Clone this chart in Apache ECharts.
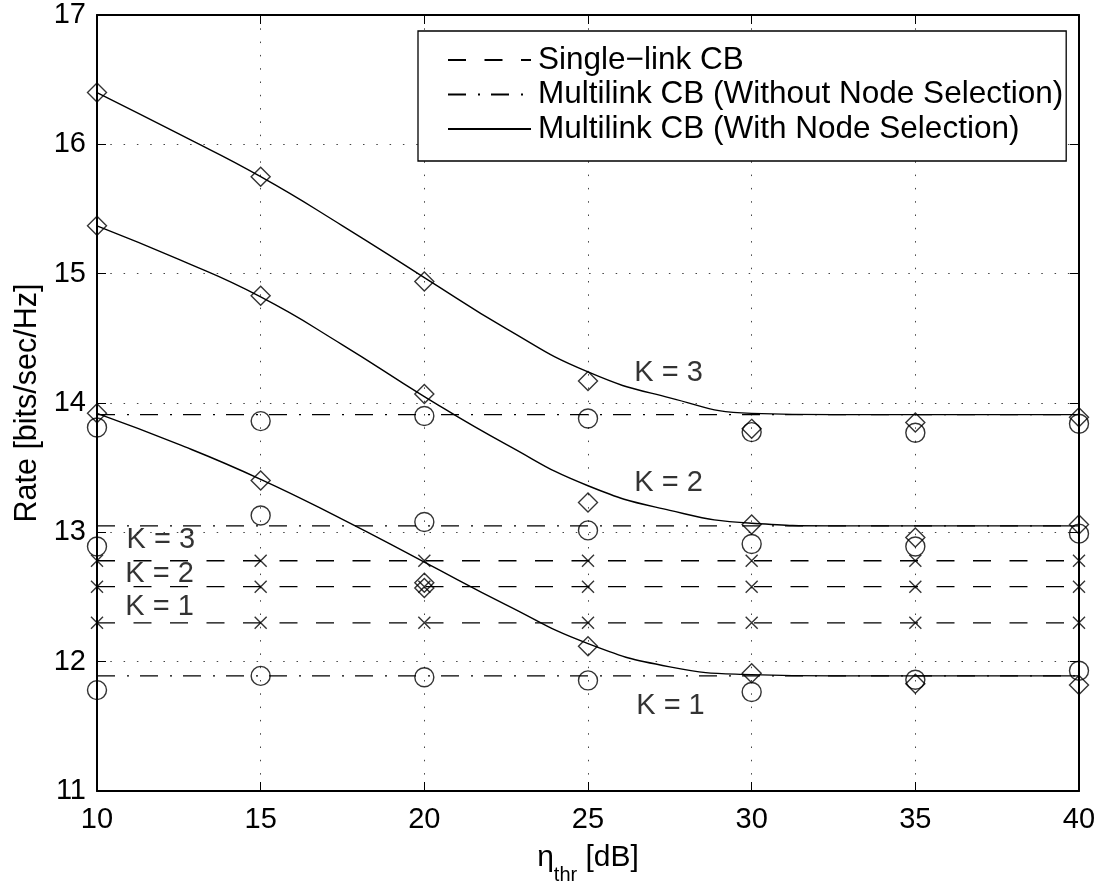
<!DOCTYPE html>
<html>
<head>
<meta charset="utf-8">
<script src="https://cdn.jsdelivr.net/npm/echarts@6/dist/echarts.min.js"></script>
<style>
  html, body { margin: 0; padding: 0; background: #fff; }
  #chart { width: 1104px; height: 884px; }
</style>
</head>
<body>
<div id="chart"></div>
<script>
var xs = [10, 15, 20, 25, 30, 35, 40];

// single-link CB (dashed, x markers), K = 1..3
var singleK1 = [12.30, 12.30, 12.30, 12.30, 12.30, 12.30, 12.30];
var singleK2 = [12.58, 12.58, 12.58, 12.58, 12.58, 12.58, 12.58];
var singleK3 = [12.78, 12.78, 12.78, 12.78, 12.78, 12.78, 12.78];

// multilink CB without node selection (dash-dot)
var multiK1 = [11.89, 11.89, 11.89, 11.89, 11.89, 11.89, 11.89];
var multiK2 = [13.05, 13.05, 13.05, 13.05, 13.05, 13.05, 13.05];
var multiK3 = [13.91, 13.91, 13.91, 13.91, 13.91, 13.91, 13.91];

// circles (simulated, without node selection)
var circleK1 = [11.78, 11.89, 11.88, 11.855, 11.765, 11.86, 11.93];
var circleK2 = [12.89, 13.13, 13.08, 13.015, 12.91, 12.89, 12.99];
var circleK3 = [13.81, 13.86, 13.90, 13.88, 13.775, 13.77, 13.84];

// diamonds (simulated, with node selection)
var diamondK1 = [13.92, 13.40, 12.61, 12.12, 11.91, 11.83, 11.82];
var diamondK2 = [15.37, 14.83, 14.07, 13.23, 13.06, 12.96, 13.06];
var diamondK3 = [16.40, 15.75, 14.94, 14.17, 13.80, 13.85, 13.89];
var diamondExtraX = [20];
var diamondExtraY = [12.57];

// fitted curves, with node selection (solid)
var curveX = [10, 12.5, 15, 17.5, 20, 22.5, 25, 27.5, 30, 32.5, 35, 40];
var curveK1 = [13.92, 13.68, 13.41, 13.10, 12.77, 12.44, 12.14, 11.96, 11.90, 11.89, 11.89, 11.89];
var curveK2 = [15.37, 15.11, 14.82, 14.45, 14.05, 13.68, 13.36, 13.17, 13.07, 13.05, 13.05, 13.05];
var curveK3 = [16.40, 16.08, 15.75, 15.37, 14.97, 14.575, 14.24, 14.04, 13.92, 13.91, 13.91, 13.91];

// K = n annotations
var labelX = [27.46, 27.46, 27.52, 11.95, 11.91, 11.91];
var labelY = [14.233, 13.382, 11.655, 12.937, 12.68, 12.425];
var labelText = ["K = 3", "K = 2", "K = 1", "K = 3", "K = 2", "K = 1"];

var legendNames = [
  "Single\u2212link CB",
  "Multilink CB (Without Node Selection)",
  "Multilink CB (With Node Selection)"
];

var FONT = "Liberation Sans, Arial, Helvetica, sans-serif";
var DASH = [18, 18.5];
var DASHDOT = [18, 12, 2, 11];

function pairs(x, y) {
  return x.map(function (v, i) { return [v, y[i]]; });
}

function lineSeries(name, x, y, type, smooth) {
  return {
    name: name,
    type: "line",
    data: pairs(x, y),
    symbol: "none",
    smooth: smooth || false,
    lineStyle: { color: "#000", width: 1.4, type: type },
    itemStyle: { color: "#000" },
    silent: true,
    z: 3
  };
}

function markerSeries(name, x, y, symbol, size) {
  return {
    name: name,
    type: "scatter",
    data: pairs(x, y),
    symbol: symbol,
    symbolSize: size,
    itemStyle: { color: "rgba(0,0,0,0)", borderColor: "#000", borderWidth: 1.4 },
    silent: true,
    z: 4
  };
}

var crossPath = "path://M0,0L10,10M10,0L0,10";

var chartDom = document.getElementById("chart");
var myChart = echarts.init(chartDom);

var series = [
  lineSeries(legendNames[0], xs, singleK3, DASH),
  lineSeries(legendNames[0], xs, singleK2, DASH),
  lineSeries(legendNames[0], xs, singleK1, DASH),
  lineSeries(legendNames[1], xs, multiK3, DASHDOT),
  lineSeries(legendNames[1], xs, multiK2, DASHDOT),
  lineSeries(legendNames[1], xs, multiK1, DASHDOT),
  lineSeries(legendNames[2], curveX, curveK3, "solid", 0.5),
  lineSeries(legendNames[2], curveX, curveK2, "solid", 0.5),
  lineSeries(legendNames[2], curveX, curveK1, "solid", 0.5),
  markerSeries("x3", xs, singleK3, crossPath, 12),
  markerSeries("x2", xs, singleK2, crossPath, 12),
  markerSeries("x1", xs, singleK1, crossPath, 12),
  markerSeries("c3", xs, circleK3, "circle", 19),
  markerSeries("c2", xs, circleK2, "circle", 19),
  markerSeries("c1", xs, circleK1, "circle", 19),
  markerSeries("d3", xs, diamondK3, "diamond", 19),
  markerSeries("d2", xs, diamondK2, "diamond", 19),
  markerSeries("d1", xs, diamondK1, "diamond", 19),
  markerSeries("d1b", diamondExtraX, diamondExtraY, "diamond", 19),
  {
    name: "labels",
    type: "scatter",
    symbolSize: 0,
    silent: true,
    z: 5,
    data: labelX.map(function (v, i) { return { value: [v, labelY[i]], name: labelText[i] }; }),
    label: {
      show: true,
      position: "inside",
      formatter: "{b}",
      color: "#000",
      fontFamily: FONT,
      fontSize: 29
    }
  }
];

var option = {
  animation: false,
  backgroundColor: "#fff",
  textStyle: { fontFamily: FONT, color: "#000" },
  grid: { left: 97, right: 25, top: 15, bottom: 93, containLabel: false, outerBoundsMode: "none" },
  legend: {
    data: legendNames,
    orient: "vertical",
    left: 418,
    top: 31,
    padding: [13, 3, 16, 29],
    itemGap: 2.5,
    itemWidth: 83,
    itemHeight: 20,
    backgroundColor: "#fff",
    borderColor: "#000",
    borderWidth: 1.3,
    borderRadius: 0,
    selectedMode: false,
    itemStyle: { opacity: 0 },
    textStyle: { fontFamily: FONT, fontSize: 31.5, color: "#000", padding: [0, 0, 0, 2] },
    z: 10
  },
  xAxis: [
    {
      type: "value",
      min: 10,
      max: 40,
      interval: 5,
      name: "{a|\u03b7}{s|thr}{a| [dB]}",
      nameLocation: "middle",
      nameGap: 40,
      nameTextStyle: {
        rich: {
          a: { fontFamily: FONT, fontSize: 30, color: "#000" },
          s: { fontFamily: FONT, fontSize: 20, color: "#000", padding: [34, 0, 0, 0] }
        }
      },
      axisLine: { show: true, onZero: false, lineStyle: { color: "#000", width: 2 } },
      axisTick: { show: true, inside: true, length: 9, lineStyle: { color: "#000", width: 1 } },
      axisLabel: { color: "#000", fontFamily: FONT, fontSize: 29, margin: 14 },
      splitLine: { show: true, lineStyle: { color: "#444", width: 1, type: [1.5, 11.8] } }
    },
    {
      type: "value",
      min: 10,
      max: 40,
      interval: 5,
      position: "top",
      axisLine: { show: true, onZero: false, lineStyle: { color: "#000", width: 2 } },
      axisTick: { show: true, inside: true, length: 9, lineStyle: { color: "#000", width: 1 } },
      axisLabel: { show: false },
      splitLine: { show: false }
    }
  ],
  yAxis: [
    {
      type: "value",
      min: 11,
      max: 17,
      interval: 1,
      name: "Rate [bits/sec/Hz]",
      nameLocation: "middle",
      nameGap: 54,
      nameTextStyle: { fontFamily: FONT, fontSize: 30.5, color: "#000" },
      axisLine: { show: true, onZero: false, lineStyle: { color: "#000", width: 2 } },
      axisTick: { show: true, inside: true, length: 9, lineStyle: { color: "#000", width: 1 } },
      axisLabel: { color: "#000", fontFamily: FONT, fontSize: 29, margin: 11 },
      splitLine: { show: true, lineStyle: { color: "#444", width: 1, type: [1.5, 11.8] } }
    },
    {
      type: "value",
      min: 11,
      max: 17,
      interval: 1,
      position: "right",
      axisLine: { show: true, onZero: false, lineStyle: { color: "#000", width: 2 } },
      axisTick: { show: true, inside: true, length: 9, lineStyle: { color: "#000", width: 1 } },
      axisLabel: { show: false },
      splitLine: { show: false }
    }
  ],
  series: series
};

option && myChart.setOption(option);
</script>
</body>
</html>
